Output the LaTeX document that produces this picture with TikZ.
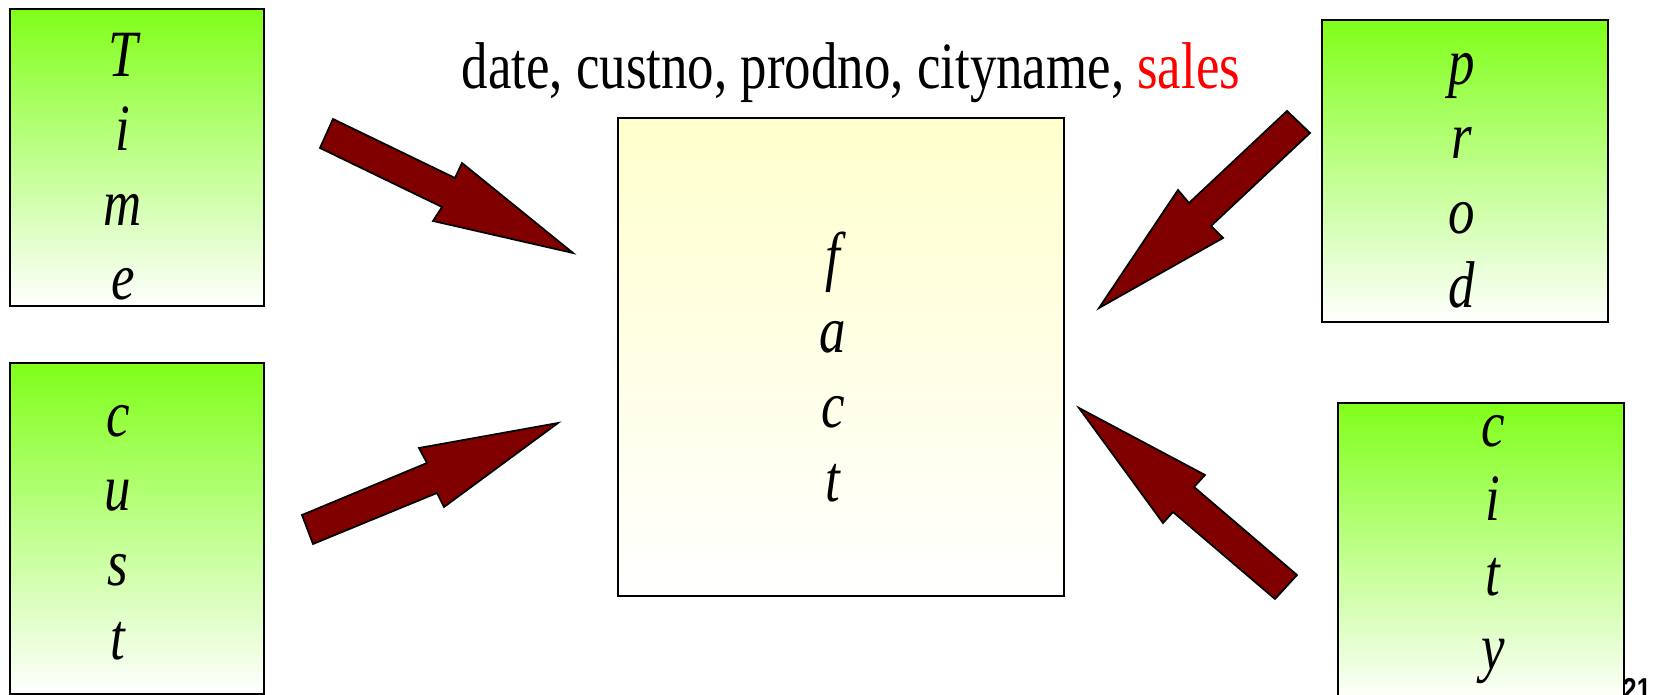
\documentclass[tikz,border=0pt]{standalone}
\usepackage{fontspec}
\setmainfont{Liberation Serif}[FakeStretch=0.8]
\newfontfamily\slidenumfont{Liberation Sans}[FakeStretch=0.8]
\usepackage{xcolor}
\usetikzlibrary{positioning}
\definecolor{DimGreen}{HTML}{80FF1A}
\definecolor{FactYellow}{HTML}{FFFFCC}
\definecolor{ArrowRed}{HTML}{800000}
\tikzset{
  dimbox/.style={draw=black,line width=0.6pt,top color=DimGreen,
    bottom color=white,inner sep=0pt,anchor=north west},
  factbox/.style={draw=black,line width=0.6pt,top color=FactYellow,
    bottom color=white,inner sep=0pt,anchor=north west},
  boxletters/.style={align=center,inner sep=0pt,anchor=base,
    font=\itshape\fontsize{18.8}{21.2}\selectfont},
  blockarrow/.style={draw=black,line width=0.5pt,fill=ArrowRed,
    line join=miter}
}

\begin{document}
\begin{tikzpicture}[x=0.01cm,y=-0.01cm]
        \useasboundingbox (0,0) rectangle (1663,695);

        \node[dimbox,minimum width=2.54cm,minimum height=2.97cm]
          (time) at (9,8) {};
        \node[dimbox,minimum width=2.54cm,minimum height=3.31cm]
          (cust) at (9,362) {};
        \node[dimbox,minimum width=2.86cm,minimum height=3.02cm]
          (prod) at (1321,19) {};
        \node[dimbox,minimum width=2.86cm,minimum height=3.00cm]
          (city) at (1337,402) {};
        \node[factbox,minimum width=4.46cm,minimum height=4.78cm]
          (fact) at (617,117) {};

        \node[boxletters] (timetext) at (123,300) {T\\i\\m\\e};
        \node[boxletters] (custtext) at (118,660) {c\\u\\s\\t};
        \node[boxletters] (prodtext) at (1462,308) {p\\r\\o\\d};
        \node[boxletters] (citytext) at (1493,670) {c\\i\\t\\y};
        \node[boxletters] (facttext) at (833,502) {f\\a\\c\\t};

        \node[anchor=base,inner sep=0pt,font=\fontsize{18.8}{22}\selectfont]
          (attrs) at (851,89)
          {date, custno, prodno, cityname, \textcolor{red}{sales}};

        \draw[blockarrow] (333,119) -- (455,178) -- (462,163) -- (573,253)
          -- (433,221) -- (442,207) -- (320,148) -- cycle;
        \draw[blockarrow] (302,515) -- (427,463) -- (419,448) -- (558,423)
          -- (444,507) -- (437,493) -- (313,544) -- cycle;
        \draw[blockarrow] (1287,111) -- (1310,133) -- (1211,226) -- (1223,238)
          -- (1099,308) -- (1178,190) -- (1189,203) -- cycle;
        \draw[blockarrow] (1079,408) -- (1205,475) -- (1194,487) -- (1297,575)
          -- (1275,599) -- (1173,512) -- (1163,523) -- cycle;

        \node[anchor=base west,inner sep=0pt,
          font=\slidenumfont\bfseries\fontsize{9}{10}\selectfont]
          (slideno) at (1622,701) {21};
      \end{tikzpicture}
\end{document}
